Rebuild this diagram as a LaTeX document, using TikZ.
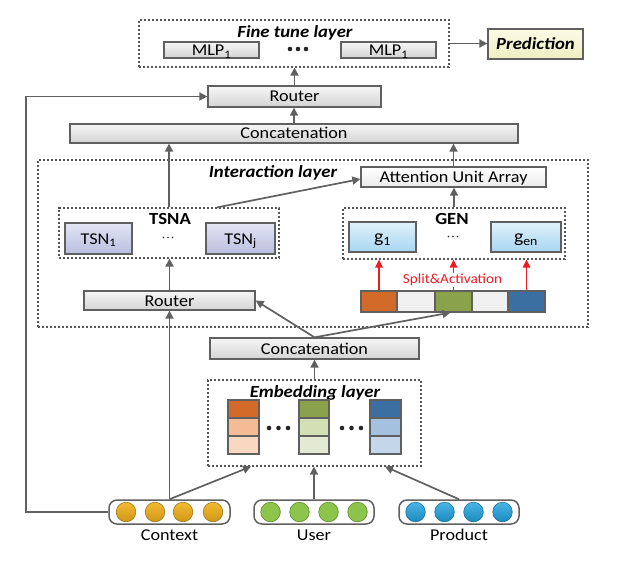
\documentclass[tikz,border=0pt]{standalone}
\usepackage{fontspec}
\setmainfont{Carlito}[FakeStretch=1.1]
\usetikzlibrary{arrows.meta,calc}
\definecolor{lc}{HTML}{606060}
\definecolor{dc}{HTML}{555555}
\definecolor{btop}{HTML}{F6F6F6}
\definecolor{bbot}{HTML}{D4D4D4}
\definecolor{ttop}{HTML}{E2E5F4}
\definecolor{tbot}{HTML}{B9BFDF}
\definecolor{gtop}{HTML}{E0F2FC}
\definecolor{gbot}{HTML}{A8D5F1}
\definecolor{ptop}{HTML}{FBFBE6}
\definecolor{pbot}{HTML}{EEEEC0}
\definecolor{cor}{HTML}{D26A2A}
\definecolor{cgr}{HTML}{8BA24C}
\definecolor{cbl}{HTML}{3B6FA2}
\definecolor{clg}{HTML}{F0F0F0}
\definecolor{o2}{HTML}{F3BC94}
\definecolor{o3}{HTML}{F8D8C1}
\definecolor{g2}{HTML}{D3DFB4}
\definecolor{g3}{HTML}{E3E9D3}
\definecolor{b2}{HTML}{A4C2DF}
\definecolor{b3}{HTML}{C4D6E9}
\definecolor{dotO}{HTML}{F2B21A}
\definecolor{dotOb}{HTML}{9C7A22}
\definecolor{dotG}{HTML}{8CC44C}
\definecolor{dotGb}{HTML}{5E8A2E}
\definecolor{dotB}{HTML}{1EA2DF}
\definecolor{dotBb}{HTML}{17709E}
\definecolor{redc}{HTML}{EE1C25}
\newcommand{\lblfont}{\fontsize{16.5}{19}\selectfont}
\newcommand{\ttlfont}{\fontsize{17}{20}\selectfont\bfseries\itshape}
\begin{document}
\begin{tikzpicture}[x=1pt,y=-1pt,
  box/.style={draw=lc, line width=1.3pt, top color=btop, bottom color=bbot, inner sep=0pt, font=\lblfont, text height=11pt, text depth=0pt},
  tsnbox/.style={box, top color=ttop, bottom color=tbot},
  gbox/.style={box, top color=gtop, bottom color=gbot},
  dbox/.style={draw=dc, line width=1.1pt, dash pattern=on 2.4pt off 1.6pt, inner sep=0pt},
  ttl/.style={font=\ttlfont, inner sep=0pt, text height=11pt, text depth=0pt},
  btl/.style={font=\fontsize{17}{20}\selectfont\bfseries, inner sep=0pt, text height=11pt, text depth=0pt},
  cell/.style={draw=lc, line width=1.2pt, inner sep=0pt},
  arr/.style={draw=lc, line width=1.7pt, -{Triangle[length=8pt,width=8pt]}},
  redarr/.style={draw=redc, line width=1.7pt, -{Triangle[length=8pt,width=7.5pt]}},
  inbox/.style={draw=lc, line width=1.5pt, rounded corners=8pt, fill=white, inner sep=0pt, minimum width=121pt, minimum height=24pt},
  lab/.style={font=\lblfont, inner sep=0pt}
]
\useasboundingbox (0,0) rectangle (617,569);

% ---------------- Fine tune layer
\node[dbox, minimum width=310pt, minimum height=47pt] (ft) at (294,43.5) {};
\node[ttl] (ftt) at (295,32) {Fine tune layer};
\node[box, minimum width=95pt, minimum height=16pt] (mlpa) at (211.5,50) {MLP\textsubscript{1}};
\node[box, minimum width=95pt, minimum height=16pt] (mlpb) at (388.5,50) {MLP\textsubscript{1}};
\foreach \x in {290,298,306} \fill[black!85] (\x,49) circle (2.3pt);
\node[box, top color=ptop, bottom color=pbot, minimum width=95pt, minimum height=30pt, font=\ttlfont] (pred) at (535.5,44) {Prediction};

% ---------------- top router / concat
\node[box, minimum width=173pt, minimum height=21pt] (r1) at (294.5,96.5) {Router};
\node[box, minimum width=448pt, minimum height=19pt] (c1) at (294,133.5) {Concatenation};

% ---------------- Interaction layer
\node[dbox, minimum width=550pt, minimum height=167pt] (il) at (313,243.5) {};
\node[ttl] (ilt) at (273,172) {Interaction layer};
\node[box, top color=white, bottom color=black!8, minimum width=185pt, minimum height=20pt] (att) at (453.5,177) {Attention Unit Array};

\node[dbox, minimum width=220pt, minimum height=50pt] (tsna) at (169,233) {};
\node[btl] (tsnat) at (170,219) {TSNA};
\node[tsnbox, minimum width=67pt, minimum height=31pt] (tsn1) at (98.5,238.5) {TSN\textsubscript{1}};
\node[tsnbox, minimum width=69pt, minimum height=31pt] (tsnj) at (240.5,238.5) {TSN\textsubscript{j}};
\foreach \x in {163.5,168,172.5} \fill[black!85] (\x,237.5) circle (0.9pt);

\node[box, minimum width=171pt, minimum height=19pt] (r2) at (169.5,300.5) {Router};

\node[dbox, minimum width=222pt, minimum height=51pt] (gen) at (454,233.5) {};
\node[btl] (gent) at (452,219) {GEN};
\node[gbox, minimum width=67pt, minimum height=30pt, font=\fontsize{18}{20}\selectfont] (g1) at (382.5,237) {g\textsubscript{1}};
\node[gbox, minimum width=70pt, minimum height=30pt, font=\fontsize{18}{20}\selectfont] (gen2) at (526,237) {g\textsubscript{en}};
\foreach \x in {448.5,453,457.5} \fill[black!85] (\x,236.5) circle (0.9pt);

% bar
\node[cell, fill=cor, minimum width=36pt, minimum height=21pt] (b1) at (379,301.5) {};
\node[cell, fill=clg, minimum width=38pt, minimum height=21pt] (b2) at (416,301.5) {};
\node[cell, fill=cgr, minimum width=37pt, minimum height=21pt] (b3) at (453.5,301.5) {};
\node[cell, fill=clg, minimum width=36pt, minimum height=21pt] (b4) at (490,301.5) {};
\node[cell, fill=cbl, minimum width=37pt, minimum height=21pt] (b5) at (526.5,301.5) {};

\draw[redarr] (b1.north) -- (b1.north |- gen.south);
\draw[redarr] (b3.north) -- (b3.north |- gen.south);
\draw[redarr] (b5.north) -- (b5.north |- gen.south);
\node[font=\fontsize{13.8}{16}\selectfont, text=redc, fill=white, inner sep=1pt] (split) at (452.5,280) {Split\&Activation};

% ---------------- lower concat & embedding
\node[box, minimum width=209pt, minimum height=21pt] (c2) at (314.5,348.5) {Concatenation};
\node[dbox, minimum width=213pt, minimum height=86pt] (emb) at (314.5,423) {};
\node[ttl] (embt) at (315,391.5) {Embedding layer};

\node[cell, fill=cor, minimum width=31pt, minimum height=18pt] (e11) at (243.5,409) {};
\node[cell, fill=o2,  minimum width=31pt, minimum height=18pt] (e12) at (243.5,427) {};
\node[cell, fill=o3,  minimum width=31pt, minimum height=18pt] (e13) at (243.5,445) {};
\node[cell, fill=cgr, minimum width=30pt, minimum height=18pt] (e21) at (314,409) {};
\node[cell, fill=g2,  minimum width=30pt, minimum height=18pt] (e22) at (314,427) {};
\node[cell, fill=g3,  minimum width=30pt, minimum height=18pt] (e23) at (314,445) {};
\node[cell, fill=cbl, minimum width=31pt, minimum height=18pt] (e31) at (385.5,409) {};
\node[cell, fill=b2,  minimum width=31pt, minimum height=18pt] (e32) at (385.5,427) {};
\node[cell, fill=b3,  minimum width=31pt, minimum height=18pt] (e33) at (385.5,445) {};
\foreach \x in {269,278.5,288,342,351.5,361} \fill[black!85] (\x,428) circle (2.3pt);

% ---------------- inputs
\node[inbox] (ctx) at (169.5,512) {};
\node[inbox, minimum width=120pt] (usr) at (314,512) {};
\node[inbox, minimum width=120pt] (prd) at (459,512) {};
\foreach \x in {126,155,183,213}
  \draw[dotOb, line width=0.6pt, top color=dotO!90!white, bottom color=dotO!85!black] (\x,512) circle (9.8pt);
\foreach \x in {270.5,299.5,328.5,357.5}
  \draw[dotGb, line width=0.6pt, fill=dotG] (\x,512) circle (9.8pt);
\foreach \x in {415.5,444.5,473.5,502.5}
  \draw[dotBb, line width=0.6pt, top color=dotB!80!white, bottom color=dotB!85!black] (\x,512) circle (9.8pt);
\node[lab] (ctxl) at (169.5,535) {Context};
\node[lab] (usrl) at (314,535) {User};
\node[lab] (prdl) at (459,535) {Product};

% ---------------- connectors
\coordinate (lp) at (26,300);
\draw[arr] (ctx.west) -- (ctx.west -| lp) |- (r1.west);
\draw[arr] (ctx.north) -- (ctx.north |- r2.south);
\draw[arr] (ctx.north) -- ([xshift=-63.5pt]emb.south);
\draw[arr] (usr.north) -- (usr.north |- emb.south);
\draw[arr] (prd.north) -- ([xshift=70.5pt]emb.south);
\draw[arr] (emb.north) -- (emb.north |- c2.south);
\draw[arr] (c2.north) -- (r2.east);
\draw[arr] (c2.north) -- ([xshift=-3pt]b3.south);
\draw[arr] (r2.north) -- (r2.north |- tsna.south);
\draw[arr] (tsna.north) -- (tsna.north |- c1.south);
\draw[arr] ([xshift=48pt]tsna.north) -- ([yshift=-2pt]att.west);
\draw[arr] (gen.north) -- (gen.north |- att.south);
\draw[arr] (att.north) -- (att.north |- c1.south);
\draw[arr] (c1.north) -- (c1.north |- r1.south);
\draw[arr] (r1.north) -- (r1.north |- ft.south);
\draw[arr] (ft.east) -- (ft.east -| pred.west);
\end{tikzpicture}
\end{document}
